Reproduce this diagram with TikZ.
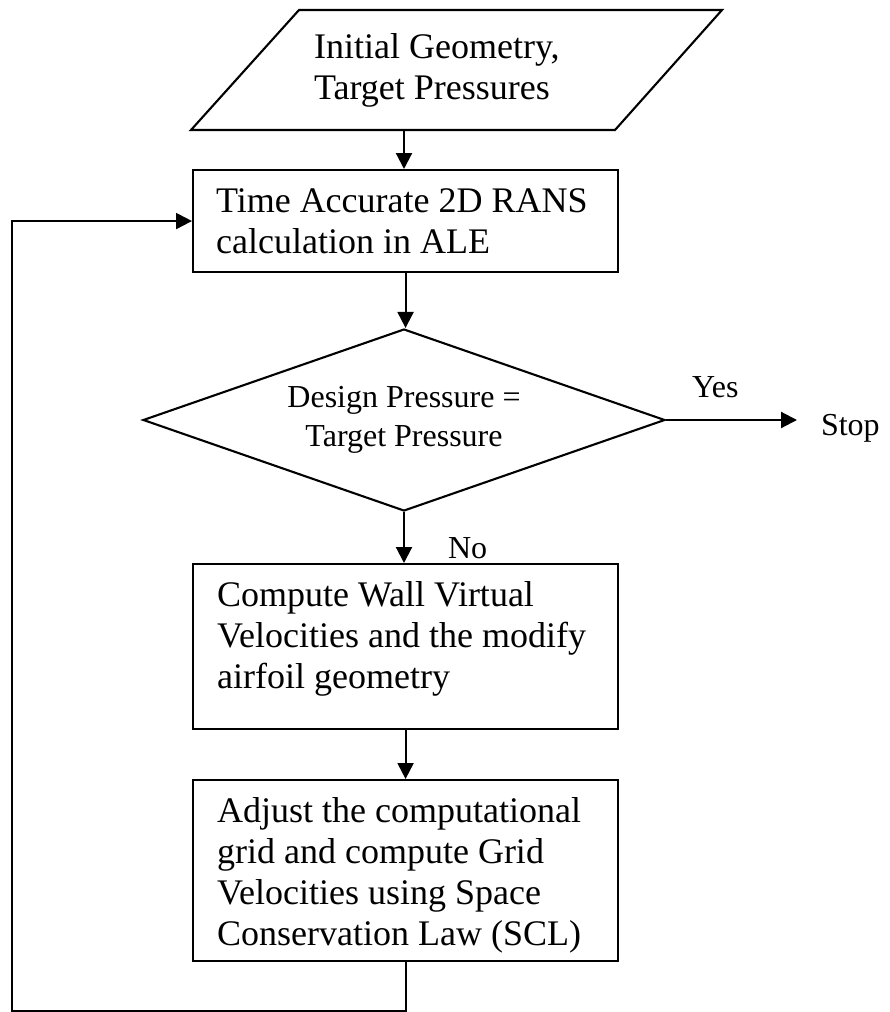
\documentclass[tikz,border=0pt]{standalone}
\usepackage{fontspec}
\setmainfont{Liberation Serif}
\usetikzlibrary{arrows.meta,shapes.geometric}
\begin{document}
\begin{tikzpicture}[x=1pt,y=-1pt,
  line width=2.1pt, line join=miter,
  box/.style={draw, rectangle, minimum width=425pt, anchor=north west, inner sep=0pt},
  txt/.style={anchor=base west, align=left, inner sep=0pt, font=\fontsize{36}{41}\selectfont},
  lbl/.style={inner sep=0pt, font=\fontsize{32}{37}\selectfont},
  arr/.style={-{Triangle[width=16pt,length=16pt]}}]
\useasboundingbox (0,0) rectangle (889,1012);
% input parallelogram
\draw (299,10) -- (722,10) -- (615,130) -- (191,130) -- cycle;
\coordinate (in) at (404,130);
\node[txt] (intext) at (313,99) {Initial Geometry,\\Target Pressures};
% boxes
\node[box, minimum height=102pt] (b1) at (192,169) {};
\node[txt] (t1) at (215,253) {Time Accurate 2D RANS\\calculation in ALE};
\node[draw, diamond, aspect=2.87, minimum width=522pt, minimum height=182pt,
      inner sep=0pt, align=center, font=\fontsize{32}{39}\selectfont] (dec) at (404,420)
      {Design Pressure =\\Target Pressure};
\node[box, minimum height=165pt] (b2) at (192,563) {};
\node[txt] (t2) at (216,688) {Compute Wall Virtual\\Velocities and the modify\\airfoil geometry};
\node[box, minimum height=181pt] (b3) at (192,779) {};
\node[txt] (t3) at (216,945) {Adjust the computational\\grid and compute Grid\\Velocities using Space\\Conservation Law (SCL)};
% labels
\node[lbl, anchor=base west] (yes) at (691,397) {Yes};
\node[lbl, anchor=base west] (no) at (447,558) {No};
\node[lbl, anchor=base west] (stop) at (820,435) {Stop};
\coordinate (lb) at (12,1011);
% connectors
\draw[arr] (in) -- (in |- b1.north);
\draw[arr] (b1.south) -- (b1.south |- dec.north);
\draw[arr, shorten >=23pt] (dec.east) -- (stop.west |- dec.east);
\draw[arr] (dec.south) -- (dec.south |- b2.north);
\draw[arr] (b2.south) -- (b3.north);
\draw[arr] (b3.south) |- (lb) |- (b1.west);
\end{tikzpicture}
\end{document}
